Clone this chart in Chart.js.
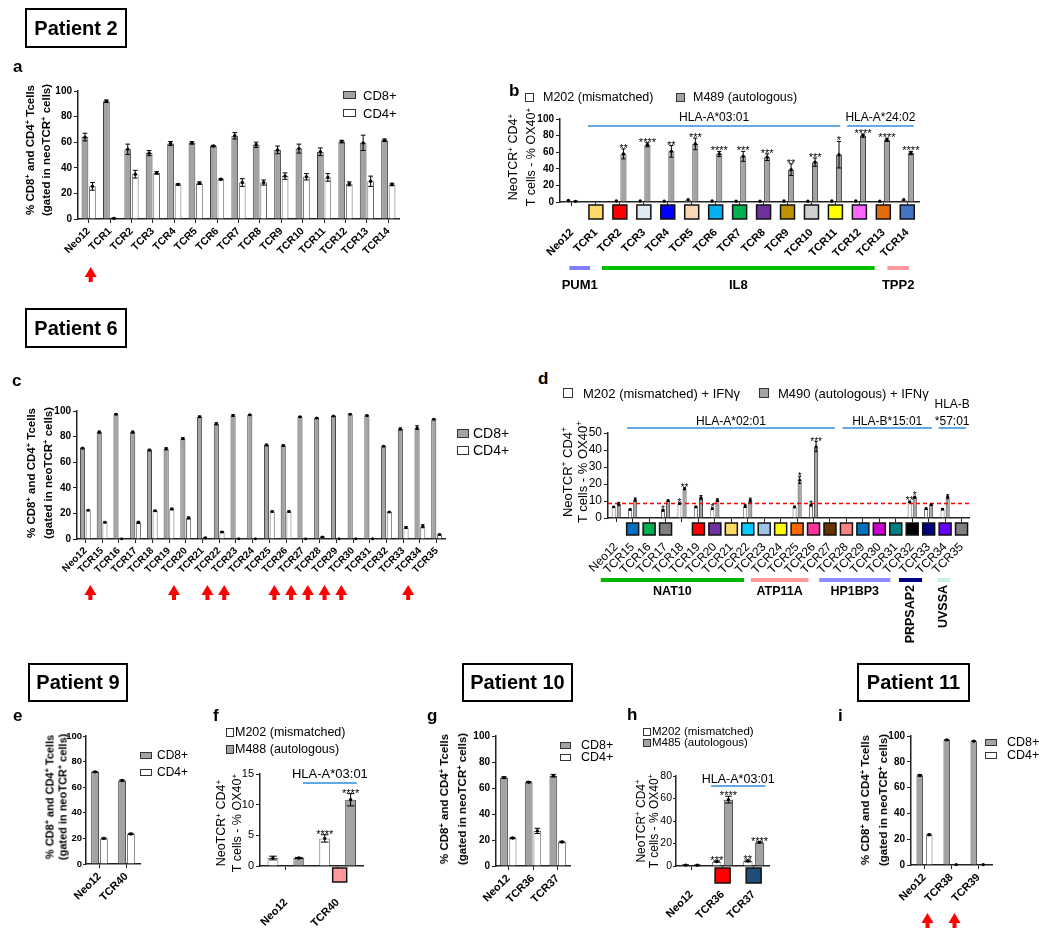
<!DOCTYPE html>
<html><head><meta charset="utf-8">
<script src="https://cdn.jsdelivr.net/npm/chart.js@4.4.1/dist/chart.umd.min.js"></script>
<style>
body{margin:0;background:#fff;overflow:hidden}
#page{position:relative;width:1050px;height:945px;font-family:"Liberation Sans",Arial,sans-serif;color:#000}
canvas{position:absolute}
.box{position:absolute;border:2px solid #000;box-sizing:border-box;font-weight:bold;font-size:20px;display:flex;align-items:center;justify-content:center}
.lbl{position:absolute;font-weight:bold;font-size:17px;line-height:16px}
.yt{position:absolute;transform:translate(-50%,-50%) rotate(-90deg);white-space:nowrap;text-align:center}
.lg{position:absolute;white-space:nowrap;transform:translateY(-50%);line-height:1}
.sw{position:absolute;box-sizing:border-box;border:1px solid #333}
sup{font-size:0.65em;line-height:0;vertical-align:0.55em}
</style></head><body><div id="page"></div>
<script>
Chart.defaults.font.family = '"Liberation Sans", Arial, sans-serif'
Chart.defaults.color = '#000'

// ---- Patient 2 ----
const catsA = ['Neo12','TCR1','TCR2','TCR3','TCR4','TCR5','TCR6','TCR7','TCR8','TCR9','TCR10','TCR11','TCR12','TCR13','TCR14']
const cd8A = [64, 92, 54.5, 51.5, 59, 59.5, 57, 65, 58, 54, 55, 52.5, 60.5, 59.5, 61.5]
const cd8SdA = [3, 1, 4, 2, 1.5, 1, 0.5, 2.5, 2, 3, 3.5, 3, 1, 6, 1]
const cd4A = [25.5, 0.5, 35, 36, 27, 28, 31, 28.5, 28.5, 33.5, 33, 32.5, 27.5, 29.5, 27]
const cd4SdA = [3, 0.3, 3, 1, 0.5, 1, 0.5, 3, 2, 2.5, 2.5, 3, 1.5, 4, 1]

const m202B = [1.8, null, 1.2, 1.2, 1.0, 2.8, 1.2, 1.0, 1.0, 1.2, 1.0, 1.2, 1.2, 1.0, 2.8]
const m489B = [0.8, null, 58, 69, 61, 70, 58, 55, 54, 39, 48, 57, 80, 75, 59]
const m489SdB = [0.3, 0, 6, 2.5, 7, 7, 3, 6, 4, 7, 5, 16, 2, 2, 2]
const starsB = ['', '', '**', '****', '**', '***', '****', '***', '***', '**', '***', '*', '****', '****', '****']
const tcrColorsB = [null, '#ffd966', '#ff0000', '#deebf7', '#0000ff', '#fcd5b4', '#00b0f0', '#00b050', '#7030a0', '#bf9000', '#d0d0d0', '#ffff00', '#ff66ff', '#e26b0a', '#4472c4']

// ---- Patient 6 ----
const catsC = ['Neo12','TCR15','TCR16','TCR17','TCR18','TCR19','TCR20','TCR21','TCR22','TCR23','TCR24','TCR25','TCR26','TCR27','TCR28','TCR29','TCR30','TCR31','TCR32','TCR33','TCR34','TCR35']
const cd8C = [71, 83.5, 97.5, 83.5, 69.5, 70.5, 78.5, 95.5, 90, 96.5, 97, 73.5, 73, 95.5, 94.5, 96, 97.5, 96.5, 72.5, 86, 87, 93.5]
const cd8SdC = [0.5, 0.8, 0.3, 0.8, 0.6, 0.8, 0.8, 0.6, 0.8, 0.6, 0.3, 0.6, 0.6, 0.3, 0.3, 0.3, 0.3, 0.3, 0.3, 0.8, 1.5, 0.3]
const cd4C = [22.5, 13, 0.2, 13, 22, 23.5, 16.5, 1, 5.5, 0.2, 0.2, 21.5, 21.5, 0.2, 1.5, 0.2, 0.2, 0.2, 21, 9, 10, 3.5]
const cd4SdC = [0.3, 0.3, 0, 0.8, 0.5, 0.6, 0.8, 0.3, 0.4, 0, 0, 0.3, 0.5, 0, 0.4, 0, 0, 0, 0.3, 0.6, 1.2, 0.3]

const m202D = [6.5, 5, null, 4.5, 8.5, 6.5, 5.5, null, 7, null, null, 6.5, 7.5, null, null, null, null, null, 9.5, 5.5, 5.2, null]
const m202SdD = [0.3, 0.4, 0, 0.5, 0.4, 0.4, 0.4, 0, 0.8, 0, 0, 0.5, 0.4, 0, 0, 0, 0, 0, 0.4, 0.5, 0.4, 0]
const m490D = [8.2, 10.8, null, 10.2, 17.2, 12, 10.5, null, 10.5, null, null, 22.3, 42, null, null, null, null, null, 12.2, 7.8, 12.5, null]
const m490SdD = [1, 1, 0, 0.4, 0.6, 1.2, 0.8, 0, 1.2, 0, 0, 2, 3, 0, 0, 0, 0, 0, 0.6, 0.4, 1.2, 0]
const starsWhiteD = ['', '', '', '*', '*', '', '*', '', '', '', '', '', '*', '', '', '', '', '', '**', '', '', '']
const starsGrayD = ['', '', '', '', '**', '', '', '', '', '', '', '*', '***', '', '', '', '', '', '*', '', '', '']
const tcrColorsD = [null, '#0070c0', '#00b050', '#808080', null, '#ff0000', '#7030a0', '#ffd966', '#00ccff', '#9dc3e6', '#ffff00', '#ff6600', '#ff3399', '#663300', '#ff8080', '#0070c0', '#cc00cc', '#008080', '#000000', '#000080', '#6600ff', '#7f7f7f']
const cutoffD = 8.5

// ---- Patient 9 ----
const catsE = ['Neo12', 'TCR40']
const cd8E = [72, 65.2]
const cd4E = [20, 23.5]
const m202F = [1.3, 4.5]
const m202SdF = [0.3, 0.6]
const m488F = [1.3, 10.8]
const m488SdF = [0.1, 1.0]
const starsWhiteF = ['', '****']
const starsGrayF = ['', '****']
const tcrColorsF = [null, '#ff9999']

// ---- Patient 10 ----
const catsG = ['Neo12', 'TCR36', 'TCR37']
const cd8G = [68, 64.5, 69.5]
const cd8SdG = [0.6, 0.5, 1]
const cd4G = [21.5, 27, 18.5]
const cd4SdG = [0.5, 2, 0.5]
const m202H = [0.8, 4, 4.5]
const m202SdH = [0.2, 0.5, 0.8]
const m485H = [0.7, 59, 21]
const m485SdH = [0.2, 3, 0.5]
const starsWhiteH = ['', '***', '**']
const starsGrayH = ['', '****', '****']
const tcrColorsH = [null, '#ff0000', '#1f4e79']

// ---- Patient 11 ----
const catsI = ['Neo12', 'TCR38', 'TCR39']
const cd8I = [69.5, 97, 96]
const cd4I = [23.5, 0.3, 0.3]

const GRAY = '#a3a3a3', GRAY_LINE = '#444', WHITE = '#fff', WHITE_LINE = '#666'
const FONT = '"Liberation Sans", Arial, sans-serif'
const page = document.getElementById('page')

const put = (cls, html, x, y, css) => {
  const d = document.createElement('div')
  d.className = cls
  d.innerHTML = html
  d.style.left = x + 'px'
  d.style.top = y + 'px'
  if (css) d.style.cssText += css
  page.appendChild(d)
  return d
}

// draws error bars, dots, stars, colour keys, HLA lines, gene bars and arrows
const annotPlugin = {
  id: 'annot',
  afterDatasetsDraw(chart, args, o) {
    const ctx = chart.ctx, A = chart.chartArea, x = chart.scales.x, y = chart.scales.y
    const p0 = x.getPixelForValue(0), st = x.getPixelForValue(1) - p0
    const at = f => p0 + f * st
    ctx.save()
    if (o.refLine != null) {
      ctx.strokeStyle = '#ff0000'; ctx.lineWidth = 1.5; ctx.setLineDash([4, 3])
      ctx.beginPath(); ctx.moveTo(A.left, y.getPixelForValue(o.refLine)); ctx.lineTo(A.right, y.getPixelForValue(o.refLine)); ctx.stroke()
      ctx.setLineDash([])
    }
    chart.data.datasets.forEach((ds, di) => {
      chart.getDatasetMeta(di).data.forEach((bar, i) => {
        const v = ds.data[i]
        if (v == null) return
        const sd = ds.sd ? ds.sd[i] : 0
        const bx = bar.x, cap = bar.width * 0.35
        ctx.strokeStyle = '#000'; ctx.fillStyle = '#000'; ctx.lineWidth = 1
        if (sd > 0) {
          const yt = y.getPixelForValue(v + sd), yb = y.getPixelForValue(Math.max(0, v - sd))
          ctx.beginPath()
          ctx.moveTo(bx, yb); ctx.lineTo(bx, yt)
          ctx.moveTo(bx - cap, yt); ctx.lineTo(bx + cap, yt)
          ctx.moveTo(bx - cap, yb); ctx.lineTo(bx + cap, yb)
          ctx.stroke()
        }
        ctx.beginPath(); ctx.arc(bx, y.getPixelForValue(v), o.dot || 1.7, 0, Math.PI * 2); ctx.fill()
        const s = ds.stars && ds.stars[i]
        if (s) {
          ctx.font = o.starFont || ('11px ' + FONT)
          ctx.textAlign = 'center'; ctx.textBaseline = 'alphabetic'
          ctx.fillText(s, bx, y.getPixelForValue(v + sd) + (o.starDy || 3))
        }
      })
    })
    if (o.squares) {
      o.squares.forEach((c, i) => {
        if (!c) return
        const cx = x.getPixelForValue(i) + (o.sqDx || 0), s = o.sqSize
        ctx.fillStyle = c; ctx.fillRect(cx - s / 2, A.bottom + o.sqGap, s, s)
        ctx.strokeStyle = '#111'; ctx.lineWidth = 1.5; ctx.strokeRect(cx - s / 2, A.bottom + o.sqGap, s, s)
      })
    }
    if (o.hla) {
      o.hla.forEach(h => {
        const ly = A.top + o.hlaY, x1 = at(h.from), x2 = at(h.to)
        ctx.strokeStyle = '#64a8ea'; ctx.lineWidth = 2
        ctx.beginPath(); ctx.moveTo(x1, ly); ctx.lineTo(x2, ly); ctx.stroke()
        ctx.fillStyle = '#000'; ctx.font = o.hlaFont; ctx.textAlign = 'center'; ctx.textBaseline = 'alphabetic'
        const lines = [].concat(h.text)
        lines.forEach((t, k) => ctx.fillText(t, (x1 + x2) / 2, ly - o.hlaTextDy - (lines.length - 1 - k) * 17))
      })
    }
    if (o.genes) {
      o.genes.forEach(g => {
        const x1 = at(g.from), x2 = at(g.to), gy = A.bottom + o.geneY
        ctx.fillStyle = g.color; ctx.fillRect(x1, gy - 2, x2 - x1, 4)
        ctx.fillStyle = '#000'; ctx.font = o.geneFont
        if (g.vertical) {
          ctx.save(); ctx.translate((x1 + x2) / 2, A.bottom + o.geneLabelY - 7); ctx.rotate(-Math.PI / 2)
          ctx.textAlign = 'right'; ctx.textBaseline = 'middle'; ctx.fillText(g.name, 0, 0); ctx.restore()
        } else {
          ctx.textAlign = 'center'; ctx.textBaseline = 'middle'
          ctx.fillText(g.name, (x1 + x2) / 2, A.bottom + o.geneLabelY)
        }
      })
    }
    if (o.arrows) {
      ctx.fillStyle = '#ff0000'
      o.arrows.forEach(n => {
        const ax = x.getPixelForValue(chart.data.labels.indexOf(n)) + o.arrowDx, ay = A.bottom + o.arrowY
        ctx.beginPath(); ctx.moveTo(ax, ay); ctx.lineTo(ax + 6, ay + 10); ctx.lineTo(ax - 6, ay + 10); ctx.closePath(); ctx.fill()
        ctx.fillRect(ax - 2, ay + 9, 4, 6)
      })
    }
    ctx.restore()
  }
}

const panel = (box, labels, sets, opt) => {
  const YW = 45, PT = 50, PR = 12, XH = 135
  const w = box.r - box.l + YW + PR, h = box.b - box.t + PT + XH
  const cv = document.createElement('canvas')
  cv.width = w; cv.height = h
  cv.style.cssText = `left:${box.l - YW}px;top:${box.t - PT}px;width:${w}px;height:${h}px`
  page.appendChild(cv)
  const axis = { color: '#222', width: 1.5 }
  const grid = { display: true, drawOnChartArea: false, offset: false, tickLength: 4, color: '#222', lineWidth: 1 }
  new Chart(cv, {
    type: 'bar',
    data: {
      labels: labels,
      datasets: sets.map(s => ({
        data: s.data, sd: s.sd, stars: s.stars,
        backgroundColor: s.fill, borderColor: s.line, borderWidth: 1,
        categoryPercentage: opt.cp, barPercentage: opt.bp
      }))
    },
    options: {
      responsive: false, animation: false, devicePixelRatio: 1,
      layout: { padding: { top: PT, right: PR, left: 0, bottom: 0 } },
      plugins: { legend: { display: false }, tooltip: { enabled: false }, annot: opt.annot || {} },
      scales: {
        x: {
          offset: true, grid: grid, border: axis,
          ticks: { autoSkip: false, minRotation: 45, maxRotation: 45, padding: opt.xpad || 2, font: opt.xfont },
          afterFit: s => { s.height = XH }
        },
        y: {
          min: 0, max: opt.ymax, grid: Object.assign({}, grid, { tickLength: opt.ytl || 4 }), border: axis,
          ticks: { stepSize: opt.step, autoSkip: false, padding: opt.ypad == null ? 2 : opt.ypad, font: opt.yfont },
          afterFit: s => { s.width = YW }
        }
      }
    },
    plugins: [annotPlugin]
  })
}

const boldS = { size: 10, weight: 'bold' }
const boldM = { size: 11, weight: 'bold' }

// a
panel({ l: 78, t: 91, r: 399, b: 219 }, catsA, [
  { data: cd8A, sd: cd8SdA, fill: GRAY, line: GRAY_LINE },
  { data: cd4A, sd: cd4SdA, fill: WHITE, line: WHITE_LINE }
], { ymax: 100, step: 20, cp: 0.7, bp: 0.9, yfont: boldS, xfont: { size: 10.5, weight: 'bold' }, xpad: 2,
  annot: { arrows: ['Neo12'], arrowDx: 2, arrowY: 48 } })

// b
panel({ l: 560, t: 119, r: 925, b: 202 }, catsA, [
  { data: m202B, sd: null, fill: WHITE, line: WHITE_LINE },
  { data: m489B, sd: m489SdB, stars: starsB, fill: GRAY, line: GRAY_LINE }
], { ymax: 100, step: 20, cp: 0.6, bp: 0.85, yfont: boldS, xfont: boldM, xpad: 20,
  annot: {
    squares: tcrColorsB, sqSize: 14, sqGap: 3,
    hla: [{ text: 'HLA-A*03:01', from: 0.67, to: 11.2 }, { text: 'HLA-A*24:02', from: 11.49, to: 14.27 }],
    hlaY: 7, hlaTextDy: 5, hlaFont: '12px ' + FONT,
    genes: [{ name: 'PUM1', from: -0.11, to: 0.76, color: '#8080ff' }, { name: 'IL8', from: 1.25, to: 12.64, color: '#00c000' }, { name: 'TPP2', from: 13.17, to: 14.07, color: '#ff9999' }],
    geneY: 66, geneLabelY: 83, geneFont: 'bold 13px ' + FONT
  } })

// c
panel({ l: 77, t: 411, r: 445, b: 539 }, catsC, [
  { data: cd8C, sd: cd8SdC, fill: GRAY, line: GRAY_LINE },
  { data: cd4C, sd: cd4SdC, fill: WHITE, line: WHITE_LINE }
], { ymax: 100, step: 20, cp: 0.68, bp: 0.9, yfont: boldS, xfont: boldS, xpad: 2,
  annot: { dot: 1.5, arrows: ['Neo12', 'TCR19', 'TCR21', 'TCR22', 'TCR25', 'TCR26', 'TCR27', 'TCR28', 'TCR29', 'TCR33'], arrowDx: 5, arrowY: 46 } })

// d
panel({ l: 608, t: 433, r: 978, b: 518 }, catsC, [
  { data: m202D, sd: m202SdD, stars: starsWhiteD, fill: WHITE, line: WHITE_LINE },
  { data: m490D, sd: m490SdD, stars: starsGrayD, fill: GRAY, line: GRAY_LINE }
], { ymax: 50, step: 10, cp: 0.62, bp: 0.8, yfont: { size: 12 }, xfont: { size: 12 }, xpad: 18,
  annot: {
    dot: 1.4, starFont: '10px ' + FONT, refLine: cutoffD,
    squares: tcrColorsD, sqSize: 12, sqGap: 5,
    hla: [{ text: 'HLA-A*02:01', from: 0.66, to: 13.29 }, { text: 'HLA-B*15:01', from: 13.76, to: 19.2 }, { text: ['HLA-B', '*57:01'], from: 19.6, to: 21.26 }],
    hlaY: -5, hlaTextDy: 3, hlaFont: '12px ' + FONT,
    genes: [
      { name: 'NAT10', from: -0.94, to: 7.77, color: '#00b400' },
      { name: 'ATP11A', from: 8.19, to: 11.69, color: '#ff9999' },
      { name: 'HP1BP3', from: 12.34, to: 16.67, color: '#8c8cff' },
      { name: 'PRPSAP2', from: 17.2, to: 18.6, color: '#000080', vertical: true },
      { name: 'UVSSA', from: 19.55, to: 20.3, color: '#ccf0e4', vertical: true }
    ],
    geneY: 62, geneLabelY: 74, geneFont: 'bold 12.5px ' + FONT
  } })

// e
panel({ l: 86, t: 736, r: 140, b: 864 }, catsE, [
  { data: cd8E, sd: [0.4, 0.4], fill: GRAY, line: GRAY_LINE },
  { data: cd4E, sd: [0.4, 0.5], fill: WHITE, line: WHITE_LINE }
], { ymax: 100, step: 20, cp: 0.65, bp: 0.9, yfont: { size: 9.5, weight: 'bold' }, ytl: 3, ypad: 1, xfont: boldM, xpad: 2 })

// f
panel({ l: 260, t: 774, r: 364, b: 866 }, catsE, [
  { data: m202F, sd: m202SdF, stars: starsWhiteF, fill: WHITE, line: WHITE_LINE },
  { data: m488F, sd: m488SdF, stars: starsGrayF, fill: GRAY, line: GRAY_LINE }
], { ymax: 15, step: 5, cp: 1, bp: 0.42, yfont: { size: 11 }, xfont: boldM, xpad: 26,
  annot: {
    squares: tcrColorsF, sqSize: 14, sqGap: 2, sqDx: 2,
    hla: [{ text: 'HLA-A*03:01', from: 0.33, to: 1.37 }], hlaY: 9, hlaTextDy: 5, hlaFont: '13px ' + FONT
  } })

// g
panel({ l: 496, t: 736, r: 570, b: 866 }, catsG, [
  { data: cd8G, sd: cd8SdG, fill: GRAY, line: GRAY_LINE },
  { data: cd4G, sd: cd4SdG, fill: WHITE, line: WHITE_LINE }
], { ymax: 100, step: 20, cp: 0.7, bp: 0.9, yfont: boldS, xfont: boldM, xpad: 2 })

// h
panel({ l: 676, t: 776, r: 771, b: 866 }, catsG, [
  { data: m202H, sd: m202SdH, stars: starsWhiteH, fill: WHITE, line: WHITE_LINE },
  { data: m485H, sd: m485SdH, stars: starsGrayH, fill: GRAY, line: GRAY_LINE }
], { ymax: 80, step: 20, cp: 0.75, bp: 0.8, yfont: { size: 10.5 }, ytl: 3, ypad: 1, xfont: boldM, xpad: 18,
  annot: {
    squares: tcrColorsH, sqSize: 15, sqGap: 2,
    hla: [{ text: 'HLA-A*03:01', from: 0.63, to: 2.38 }], hlaY: 10, hlaTextDy: 3, hlaFont: '12.5px ' + FONT
  } })

// i
panel({ l: 911, t: 736, r: 992, b: 865 }, catsI, [
  { data: cd8I, sd: [0.6, 0.3, 0.3], fill: GRAY, line: GRAY_LINE },
  { data: cd4I, sd: [0.4, 0, 0], fill: WHITE, line: WHITE_LINE }
], { ymax: 100, step: 20, cp: 0.7, bp: 0.7, yfont: boldS, xfont: boldM, xpad: 2,
  annot: { arrows: ['Neo12', 'TCR38'], arrowDx: 3, arrowY: 48 } })

// ---- page text: patient boxes, panel letters, axis titles, legends ----
const boxes = [['Patient 2', 25, 8, 102, 40], ['Patient 6', 25, 308, 102, 40], ['Patient 9', 28, 663, 100, 39], ['Patient 10', 462, 663, 111, 39], ['Patient 11', 857, 663, 113, 39]]
boxes.forEach(b => put('box', b[0], b[1], b[2], `width:${b[3]}px;height:${b[4]}px`))

const letters = [['a', 13, 59], ['b', 509, 83], ['c', 12, 373], ['d', 538, 371], ['e', 13, 708], ['f', 213, 708], ['g', 427, 708], ['h', 627, 707], ['i', 838, 708]]
letters.forEach(l => put('lbl', l[0], l[1], l[2]))

const cdTitle = '% CD8<sup>+</sup> and CD4<sup>+</sup> Tcells<br>(gated in neoTCR<sup>+</sup> cells)'
const oxTitle = 'NeoTCR<sup>+</sup> CD4<sup>+</sup><br>T cells - % OX40<sup>+</sup>'
put('yt', cdTitle, 38, 150, 'font-weight:bold;font-size:11.5px;line-height:16px')
put('yt', oxTitle, 522, 157, 'font-size:12.5px;line-height:18px')
put('yt', cdTitle, 40, 473, 'font-weight:bold;font-size:11.5px;line-height:17px')
put('yt', oxTitle, 575, 472, 'font-size:13px;line-height:15px')
put('yt', cdTitle, 56, 797, 'font-weight:bold;font-size:11px;line-height:12.5px')
put('yt', oxTitle, 229, 823, 'font-size:12.5px;line-height:16px')
put('yt', cdTitle, 453, 799, 'font-weight:bold;font-size:11.5px;line-height:18px')
put('yt', oxTitle, 647, 821, 'font-size:12px;line-height:12.5px')
put('yt', cdTitle, 874, 800, 'font-weight:bold;font-size:11.5px;line-height:18px')

const legend = (x, tx, items, size, sw, sh) => {
  items.forEach(it => {
    put('sw', '', x, it[1] - sh / 2, `width:${sw}px;height:${sh}px;background:${it[2]}`)
    put('lg', it[0], tx, it[1], `font-size:${size}px`)
  })
}
legend(343, 363, [['CD8+', 95, GRAY], ['CD4+', 113, WHITE]], 13, 13, 8)
legend(457, 473, [['CD8+', 433, GRAY], ['CD4+', 450, WHITE]], 14, 12, 9)
legend(140, 157, [['CD8+', 755, GRAY], ['CD4+', 772, WHITE]], 12, 12, 7)
legend(560, 581, [['CD8+', 745, GRAY], ['CD4+', 757, WHITE]], 12.5, 11, 7)
legend(985, 1007, [['CD8+', 742, GRAY], ['CD4+', 755, WHITE]], 12.5, 12, 7)
legend(525, 543, [['M202 (mismatched)', 97, WHITE]], 12.5, 9, 9)
legend(676, 693, [['M489 (autologous)', 97, GRAY]], 12.5, 9, 9)
legend(563, 583, [['M202 (mismatched) + IFNγ', 393, WHITE]], 13, 10, 10)
legend(759, 778, [['M490 (autologous) + IFNγ', 393, GRAY]], 13, 10, 10)
legend(226, 235, [['M202 (mismatched)', 732, WHITE], ['M488 (autologous)', 749, GRAY]], 12.5, 8, 9)
legend(643, 652, [['M202 (mismatched)', 732, WHITE], ['M485 (autologous)', 743, GRAY]], 11.5, 8, 8)
</script></body></html>
